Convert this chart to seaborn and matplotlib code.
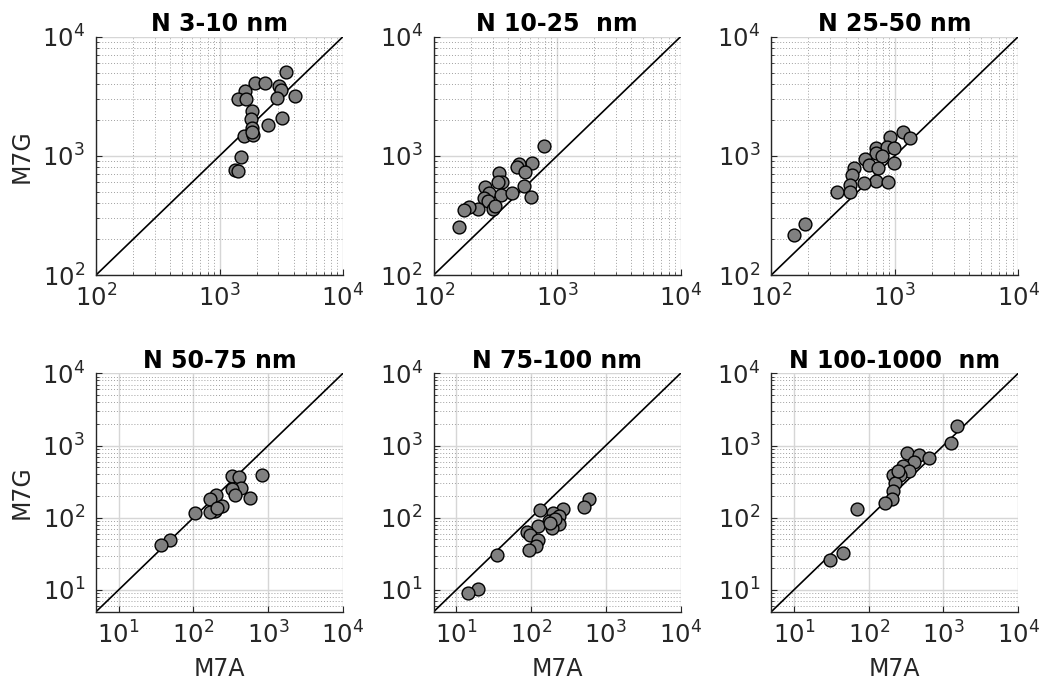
import numpy as np
import pandas as pd
import matplotlib
matplotlib.use("Agg")
import matplotlib.pyplot as plt
import seaborn as sns

# Size-resolved number concentrations: M7A (x) vs M7G (y)
titles = ["N 3-10 nm", "N 10-25  nm", "N 25-50 nm",
          "N 50-75 nm", "N 75-100 nm", "N 100-1000  nm"]

m7a_3_10 = [3480, 1955, 2355, 3030, 3155, 1622, 1406, 1652, 2925, 4120, 1836,
            1792, 2490, 3215, 1836, 1574, 1870, 1820, 1507, 1346, 1400]
m7g_3_10 = [5080, 4060, 4060, 3855, 3565, 3500, 2980, 2980, 3040, 3200, 2395,
            2025, 1815, 2067, 1701, 1467, 1495, 1590, 984, 760, 752]

m7a_10_25 = [779, 623, 495, 474, 547, 341, 358, 334, 540, 261, 281,
             254, 352, 427, 611, 274, 303, 316, 229, 195, 177, 160]
m7g_10_25 = [1209, 865, 854, 800, 727, 723, 600, 607, 559, 551, 491,
             446, 469, 491, 449, 418, 358, 382, 356, 374, 349, 255]

m7a_25_50 = [1175, 1333, 922, 701, 861, 988, 710, 794, 578, 622, 993,
             728, 470, 450, 705, 877, 566, 436, 436, 340, 187, 152]
m7g_25_50 = [1596, 1403, 1449, 1156, 1178, 1156, 1049, 997, 947, 837, 865,
             796, 786, 690, 619, 603, 588, 569, 494, 500, 266, 218]

m7a_50_75 = [832, 330, 405, 439, 330, 365, 568, 201, 166, 242, 197,
             166, 104, 49, 37, 207]
m7g_50_75 = [389, 377, 369, 255, 247, 204, 189, 204, 179, 145, 124,
             121, 115, 48.6, 42.4, 137]

m7a_75_100 = [605, 514, 267, 132, 199, 239, 176, 236, 189, 126, 89,
              97, 125, 115, 93, 35.6, 19.4, 14.2, 210, 180]
m7g_75_100 = [179, 140, 133, 128, 115, 105, 90, 81, 71, 77, 64,
              57.5, 48.6, 40.6, 35.7, 30.2, 10.4, 9.2, 95, 85]

m7a_100_1000 = [1510, 1268, 323, 468, 643, 409, 291, 347, 214, 263, 227,
                214, 207, 166, 70.5, 46, 30, 250]
m7g_100_1000 = [1849, 1067, 792, 735, 675, 594, 518, 451, 397, 397, 299,
                234, 179, 161, 133, 32, 25.7, 451]

series = [(m7a_3_10, m7g_3_10), (m7a_10_25, m7g_10_25), (m7a_25_50, m7g_25_50),
          (m7a_50_75, m7g_50_75), (m7a_75_100, m7g_75_100),
          (m7a_100_1000, m7g_100_1000)]

top_ticks = [1e2, 1e3, 1e4]
bottom_ticks = [1e1, 1e2, 1e3, 1e4]

sns.set_style("ticks")
plt.rcParams["font.family"] = ["DejaVu Sans"]
plt.rcParams["mathtext.fontset"] = "dejavusans"

fig = plt.figure(figsize=(10.44, 6.87), dpi=100)

lefts = [0.092, 0.4154, 0.7388]
width = 0.2365
top_row = (0.5997, 0.3469)
bottom_row = (0.1096, 0.3470)
txt = "#262626"

for i, (title, (xs, ys)) in enumerate(zip(titles, series)):
    row, col = divmod(i, 3)
    b, h = top_row if row == 0 else bottom_row
    ax = fig.add_axes([lefts[col], b, width, h])
    lo = 1e2 if row == 0 else 5
    hi = 1e4
    ax.set_xscale("log")
    ax.set_yscale("log")
    ax.set_xlim(lo, hi)
    ax.set_ylim(lo, hi)

    ax.grid(True, which="major", color="#d6d6d6", linewidth=1.0, linestyle="-")
    ax.grid(True, which="minor", color="#a0a0a0", linewidth=0.7, linestyle=(0, (1, 2)))
    ax.set_axisbelow(True)

    ax.plot([lo, hi], [lo, hi], color="black", linewidth=1.2, zorder=2)

    df = pd.DataFrame({"M7A": xs, "M7G": ys})
    sns.scatterplot(data=df, x="M7A", y="M7G", ax=ax, color="#808080",
                    edgecolor="black", linewidth=1.0, s=85, zorder=3,
                    legend=False)

    ticks = top_ticks if row == 0 else bottom_ticks
    ax.set_xticks(ticks)
    ax.set_yticks(ticks)
    ax.set_xticklabels([f"$10^{{{int(np.log10(t))}}}$" for t in ticks])
    ax.set_yticklabels([f"$10^{{{int(np.log10(t))}}}$" for t in ticks])
    ax.tick_params(axis="both", which="major", direction="in", length=4,
                   labelsize=17.5, colors=txt, width=0.8)
    ax.tick_params(axis="both", which="minor", direction="in", length=2,
                   colors=txt, width=0.6)
    ax.tick_params(axis="x", pad=7)
    ax.tick_params(axis="y", pad=8)

    for side in ["top", "right"]:
        ax.spines[side].set_visible(False)
    for side in ["left", "bottom"]:
        ax.spines[side].set_color(txt)
        ax.spines[side].set_linewidth(1.0)

    ax.set_title(title, fontsize=17, fontweight="bold", color="black", pad=4)
    ax.set_xlabel("M7A" if row == 1 else "", fontsize=17, color=txt, labelpad=6)
    ax.set_ylabel("M7G" if col == 0 else "", fontsize=17, color=txt, labelpad=6)

fig.savefig("out.png", dpi=100)
